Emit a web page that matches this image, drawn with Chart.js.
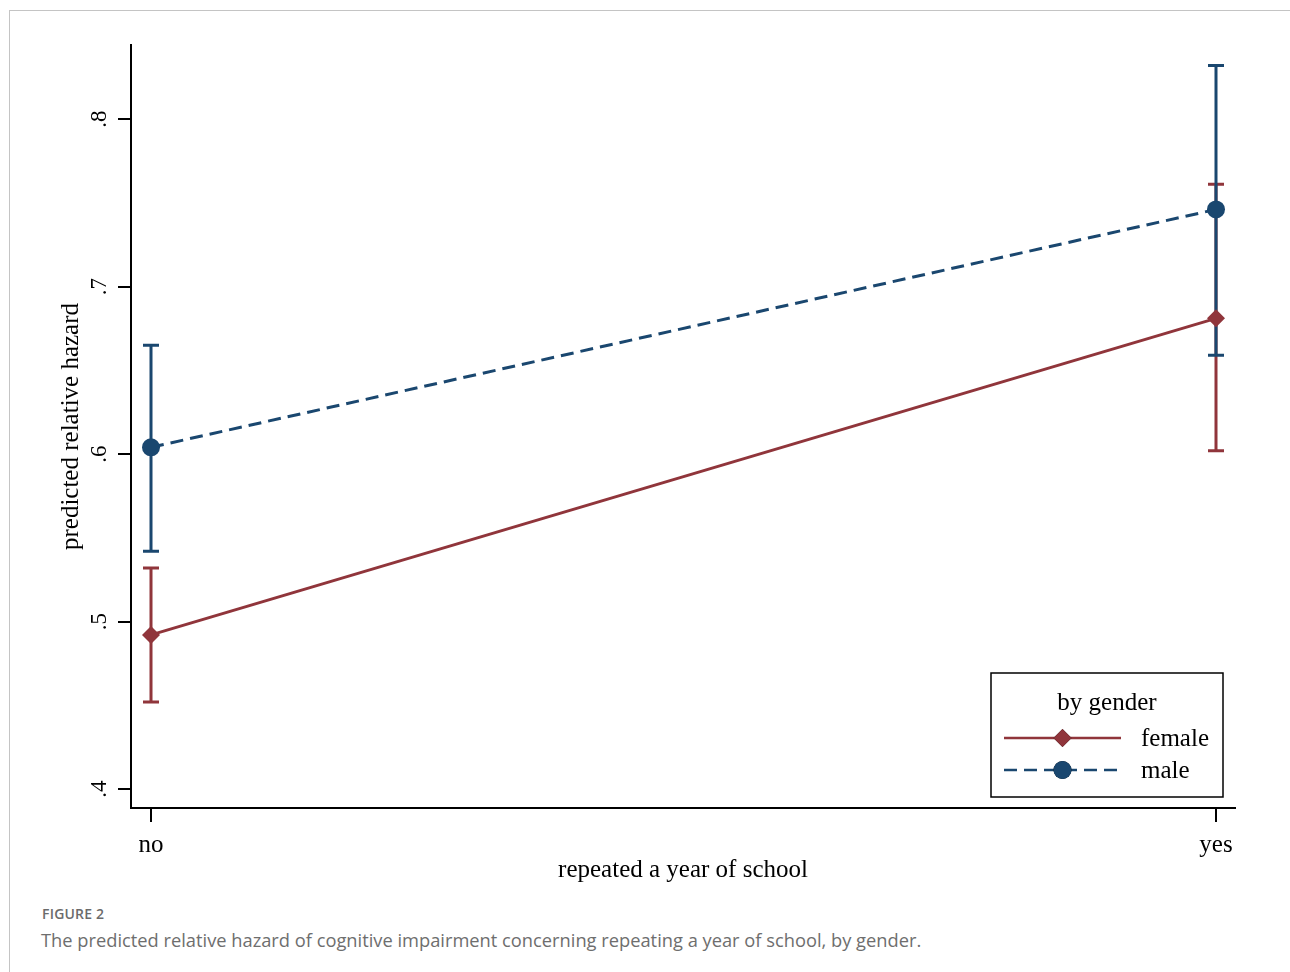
<!DOCTYPE html>
<html>
<head>
<meta charset="utf-8">
<script src="https://cdn.jsdelivr.net/npm/chart.js@4.4.1/dist/chart.umd.min.js"></script>
<style>
  body { margin: 0; background: #fff; }
  .frame {
    position: absolute; left: 9px; top: 10px; width: 1300px; height: 1000px;
    border-left: 1px solid #c4c4c4; border-top: 1px solid #c4c4c4;
  }
  #graphic { position: absolute; left: 0; top: 0; }
  .fig-label {
    position: absolute; left: 42px; top: 904px;
    font: 600 14px "Open Sans", sans-serif; color: #6b6b6b; letter-spacing: 0.2px;
  }
  .fig-caption {
    position: absolute; left: 41px; top: 927px;
    font: 18.3px "Open Sans", sans-serif; color: #6e6e6e;
  }
</style>
</head>
<body>
<div class="frame"></div>
<canvas id="graphic" width="1290" height="900"></canvas>
<div class="fig-label">FIGURE 2</div>
<div class="fig-caption">The predicted relative hazard of cognitive impairment concerning repeating a year of school, by gender.</div>
<script>
const categories = ["no", "yes"];
const femaleHazard = [0.492, 0.681];
const femaleLower = [0.452, 0.602];
const femaleUpper = [0.532, 0.761];
const maleHazard = [0.604, 0.746];
const maleLower = [0.542, 0.659];
const maleUpper = [0.665, 0.832];
const yTicks = [0.4, 0.5, 0.6, 0.7, 0.8];
const yTickLabels = [".4", ".5", ".6", ".7", ".8"];

const RED = "#90353b";
const NAVY = "#1a476f";
const SERIF = "'Liberation Serif', 'Times New Roman', serif";

const graphicElement = document.getElementById("graphic");

// confidence intervals, drawn under the lines
const ciBars = [
  { color: RED, lower: femaleLower, upper: femaleUpper },
  { color: NAVY, lower: maleLower, upper: maleUpper },
];

const ciPlugin = {
  id: "ciBars",
  beforeDatasetsDraw(chart) {
    const { ctx } = chart;
    const x = chart.scales.x;
    const y = chart.scales.y;
    ctx.save();
    ctx.lineWidth = 3;
    ciBars.forEach((bar) => {
      ctx.strokeStyle = bar.color;
      categories.forEach((_, i) => {
        const px = x.getPixelForValue(i);
        const top = y.getPixelForValue(bar.upper[i]);
        const bottom = y.getPixelForValue(bar.lower[i]);
        ctx.beginPath();
        ctx.moveTo(px, top);
        ctx.lineTo(px, bottom);
        ctx.moveTo(px - 8, top);
        ctx.lineTo(px + 8, top);
        ctx.moveTo(px - 8, bottom);
        ctx.lineTo(px + 8, bottom);
        ctx.stroke();
      });
    });
    ctx.restore();
  },
};

// rotated y tick labels and the boxed legend
const decorPlugin = {
  id: "decor",
  afterDraw(chart) {
    const { ctx, chartArea } = chart;
    const y = chart.scales.y;
    ctx.save();
    ctx.fillStyle = "#000";
    ctx.font = `23px ${SERIF}`;
    ctx.textAlign = "center";
    ctx.textBaseline = "middle";
    yTicks.forEach((v, i) => {
      ctx.save();
      ctx.translate(chartArea.left - 31, y.getPixelForValue(v));
      ctx.rotate(-Math.PI / 2);
      ctx.fillText(yTickLabels[i], 0, 0);
      ctx.restore();
    });

    const boxRight = chartArea.right - 12;
    const boxBottom = chartArea.bottom - 11;
    const boxW = 232;
    const boxH = 124;
    const bx = boxRight - boxW;
    const by = boxBottom - boxH;
    ctx.fillStyle = "#fff";
    ctx.fillRect(bx, by, boxW, boxH);
    ctx.strokeStyle = "#000";
    ctx.lineWidth = 1.5;
    ctx.strokeRect(bx, by, boxW, boxH);

    ctx.fillStyle = "#000";
    ctx.font = `25px ${SERIF}`;
    ctx.textAlign = "center";
    ctx.fillText("by gender", bx + 116, by + 30);

    chart.data.datasets.forEach((ds, i) => {
      const rowY = by + 65 + i * 32;
      const x0 = bx + 13;
      const x1 = bx + 130;
      ctx.save();
      ctx.strokeStyle = ds.borderColor;
      ctx.lineWidth = 2.5;
      ctx.setLineDash(ds.borderDash || []);
      ctx.beginPath();
      ctx.moveTo(x0, rowY);
      ctx.lineTo(x1, rowY);
      ctx.stroke();
      ctx.restore();
      Chart.helpers.drawPoint(
        ctx,
        { pointStyle: ds.pointStyle, radius: ds.pointRadius, borderWidth: 0, rotation: 0 },
        (x0 + x1) / 2,
        rowY
      );
      ctx.fillStyle = ds.pointBackgroundColor;
      ctx.fill();
      ctx.fillStyle = "#000";
      ctx.textAlign = "left";
      ctx.fillText(ds.label, bx + 150, rowY + 1);
    });
    ctx.restore();
  },
};

new Chart(graphicElement, {
  type: "line",
  data: {
    datasets: [
      {
        label: "female",
        data: femaleHazard.map((v, i) => ({ x: i, y: v })),
        borderColor: RED,
        borderWidth: 3,
        pointStyle: "rectRot",
        pointRadius: 9,
        pointBackgroundColor: RED,
        pointBorderWidth: 0,
        tension: 0,
      },
      {
        label: "male",
        data: maleHazard.map((v, i) => ({ x: i, y: v })),
        borderColor: NAVY,
        borderWidth: 3,
        borderDash: [13, 7],
        pointStyle: "circle",
        pointRadius: 9,
        pointBackgroundColor: NAVY,
        pointBorderWidth: 0,
        tension: 0,
      },
    ],
  },
  options: {
    responsive: false,
    animation: false,
    events: [],
    layout: { padding: { left: 0, right: 55, top: 45, bottom: 0 } },
    plugins: { legend: { display: false }, tooltip: { enabled: false } },
    scales: {
      x: {
        type: "linear",
        min: -0.01878,
        max: 1.01784,
        afterBuildTicks: (scale) => {
          scale.ticks = categories.map((_, i) => ({ value: i }));
        },
        afterFit: (scale) => {
          scale.height = 92;
        },
        ticks: {
          callback: (v) => categories[v],
          color: "#000",
          font: { family: SERIF, size: 25 },
          padding: 8,
          maxRotation: 0,
        },
        grid: {
          drawOnChartArea: false,
          color: "#000",
          lineWidth: 2,
          tickLength: 14,
        },
        border: { color: "#000", width: 2 },
        title: {
          display: true,
          text: "repeated a year of school",
          color: "#000",
          font: { family: SERIF, size: 25 },
          padding: { top: 0, bottom: 15 },
        },
      },
      y: {
        min: 0.38866,
        max: 0.84418,
        afterBuildTicks: (scale) => {
          scale.ticks = yTicks.map((v) => ({ value: v }));
        },
        afterFit: (scale) => {
          scale.width = 131;
        },
        ticks: { display: false },
        grid: {
          drawOnChartArea: false,
          color: "#000",
          lineWidth: 2,
          tickLength: 13,
        },
        border: { color: "#000", width: 2 },
        title: {
          display: true,
          text: "predicted relative hazard",
          color: "#000",
          font: { family: SERIF, size: 25 },
          padding: { top: 56, bottom: 0 },
        },
      },
    },
  },
  plugins: [ciPlugin, decorPlugin],
});
</script>
</body>
</html>
